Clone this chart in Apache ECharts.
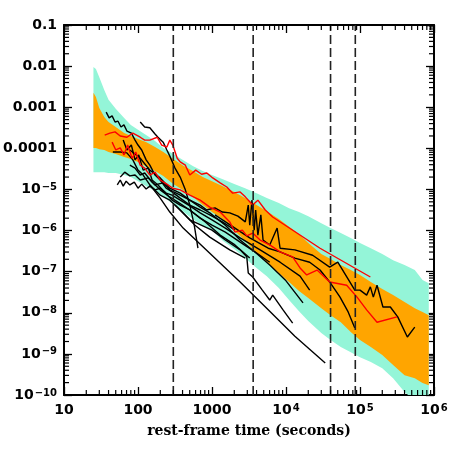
<!DOCTYPE html>
<html>
<head>
<meta charset="utf-8">
<script src="https://cdn.jsdelivr.net/npm/echarts@6/dist/echarts.min.js"></script>
<style>html,body{margin:0;padding:0;background:#fff}#c{width:458px;height:458px}</style>
</head>
<body>
<div id="c"></div>
<script>
// ---------------- DATA (times in seconds; luminance values given in dex = log10) ----------------
const xMin = 10, xMax = 1e6, yMin = 1e-10, yMax = 0.1;
const xTickLabels = ['10', '100', '1000', '10^4', '10^5', '10^6'];
const yTickLabels = ['10^-10', '10^-9', '10^-8', '10^-7', '10^-6', '10^-5', '0.0001', '0.001', '0.01', '0.1'];
const dashTimes = [300, 3600, 40000, 86400];

const bandTime = [25, 27, 30, 35, 40, 50, 65, 80, 100, 130, 170, 220, 300, 400, 550, 750, 1000, 1400, 2000, 2800,
  4000, 5500, 8000, 11000, 15000, 20000, 30000, 40000, 55000, 75000, 1e5, 1.4e5, 2e5, 2.8e5, 4e5, 5.5e5, 7e5, 8.5e5];
const cyanUpperDex = [-2.02, -2.07, -2.27, -2.58, -2.82, -3.04, -3.26, -3.43, -3.55, -3.68, -3.82, -3.99, -4.14, -4.28,
  -4.43, -4.55, -4.65, -4.75, -4.87, -4.97, -5.09, -5.21, -5.33, -5.46, -5.55, -5.65, -5.82, -5.94, -6.06, -6.18,
  -6.30, -6.43, -6.57, -6.72, -6.84, -6.96, -7.20, -7.28];
const cyanLowerDex = [-4.58, -4.58, -4.58, -4.58, -4.60, -4.60, -4.65, -4.70, -4.80, -4.92, -5.04, -5.18, -5.36, -5.53,
  -5.72, -5.89, -5.99, -6.25, -6.45, -6.67, -6.91, -7.11, -7.40, -7.69, -7.96, -8.20, -8.49, -8.66, -8.83, -8.96,
  -9.08, -9.20, -9.35, -9.59, -9.93, -10.13, -10.25, -10.32];
const orangeUpperDex = [-2.65, -2.75, -3.02, -3.24, -3.36, -3.48, -3.63, -3.70, -3.77, -3.85, -3.97, -4.09, -4.26, -4.41,
  -4.55, -4.70, -4.80, -4.92, -5.06, -5.21, -5.38, -5.53, -5.72, -5.91, -6.09, -6.30, -6.57, -6.69, -6.84, -6.96,
  -7.08, -7.25, -7.42, -7.57, -7.74, -7.89, -7.98, -8.06];
const orangeLowerDex = [-3.99, -3.99, -4.02, -4.04, -4.09, -4.14, -4.21, -4.26, -4.33, -4.45, -4.55, -4.67, -4.87, -5.01,
  -5.18, -5.38, -5.55, -5.72, -6.00, -6.25, -6.55, -6.77, -7.03, -7.25, -7.47, -7.64, -7.89, -8.06, -8.23, -8.47,
  -8.66, -8.83, -9.03, -9.27, -9.52, -9.59, -9.71, -9.76];

// light curves: [log10 t, log10 Lx/Eiso]
const blackCurves = [
  [[1.57,-3.12],[1.61,-3.26],[1.65,-3.21],[1.69,-3.36],[1.73,-3.34],[1.77,-3.48],[1.81,-3.43],[1.85,-3.58],[1.91,-3.63],
   [1.96,-3.80],[2.00,-3.92],[2.05,-4.04],[2.11,-4.28],[2.16,-4.41],[2.23,-4.65],[2.30,-4.77],[2.38,-4.97],[2.46,-5.06],
   [2.57,-5.21],[2.70,-5.38],[2.84,-5.50],[2.97,-5.62],[3.14,-5.79],[3.31,-5.99]],
  [[2.03,-3.36],[2.09,-3.48],[2.16,-3.50],[2.23,-3.65],[2.27,-3.73],[2.34,-3.85],[2.39,-4.04],[2.43,-4.19],[2.50,-4.48],
   [2.57,-4.70],[2.64,-5.01],[2.70,-5.38],[2.76,-5.87],[2.81,-6.43]],
  [[1.72,-4.89],[1.76,-4.77],[1.80,-4.92],[1.84,-4.80],[1.89,-4.89],[1.95,-4.82],[2.00,-4.97],[2.05,-4.87],[2.11,-4.99],
   [2.16,-4.92],[2.23,-5.01],[2.30,-4.97],[2.38,-5.09],[2.46,-5.14],[2.57,-5.26],[2.70,-5.40],[2.84,-5.57],[3.00,-5.74],
   [3.18,-5.94],[3.38,-6.18],[3.65,-6.47],[3.92,-6.77],[4.19,-7.11],[4.32,-7.45]],
  [[1.76,-4.70],[1.82,-4.58],[1.89,-4.67],[1.96,-4.65],[2.03,-4.77],[2.14,-4.72],[2.23,-4.89],[2.34,-4.84],[2.43,-5.01],
   [2.57,-5.14],[2.70,-5.26],[2.84,-5.43],[2.97,-5.57],[3.18,-5.87],[3.38,-6.23],[3.58,-6.52],[3.78,-6.84],[3.99,-7.20],
   [4.23,-7.76]],
  [[2.16,-4.89],[2.30,-5.21],[2.43,-5.55],[2.61,-5.94],[2.97,-6.55],[3.38,-7.25],[3.78,-7.96],[4.12,-8.57],[4.53,-9.22]],
  [[2.50,-5.38],[2.70,-5.74],[3.00,-5.99],[3.18,-6.23],[3.38,-6.47],[3.47,-6.64],[3.49,-7.03],[3.55,-7.13],[3.68,-7.45],
   [3.78,-7.69],[3.82,-7.57],[3.96,-7.93],[4.09,-8.25]],
  [[1.89,-4.04],[2.03,-4.24],[2.16,-4.53],[2.30,-4.72],[2.43,-4.97],[2.57,-5.09],[2.70,-5.26],[2.84,-5.38],[2.93,-5.50],
   [3.04,-5.45],[3.14,-5.55],[3.24,-5.57],[3.35,-5.65],[3.45,-5.79],[3.49,-5.38],[3.51,-5.87],[3.54,-5.26],[3.57,-5.99],
   [3.59,-5.50],[3.62,-6.11],[3.66,-5.62],[3.69,-6.23],[3.78,-6.35],[3.88,-5.94],[3.92,-6.43],[4.12,-6.47],[4.36,-6.60],
   [4.59,-6.89],[4.70,-6.77],[4.93,-7.45],[5.00,-7.45],[5.09,-7.57],[5.14,-7.37],[5.18,-7.62],[5.23,-7.33],[5.31,-7.86],
   [5.41,-7.86],[5.51,-8.10],[5.64,-8.59],[5.74,-8.35]],
  [[3.04,-5.62],[3.31,-5.94],[3.51,-6.18],[3.76,-6.43],[3.92,-6.52],[4.12,-6.67],[4.32,-6.77],[4.46,-6.96],[4.59,-7.25],
   [4.73,-7.62],[4.84,-7.98],[4.93,-8.37]],
  [[1.66,-4.09],[1.76,-4.09],[1.85,-4.11],[1.93,-4.28],[2.00,-4.53],[2.07,-4.65],[2.16,-4.89],[2.30,-5.14],[2.43,-5.26],
   [2.57,-5.50],[2.77,-5.87],[2.97,-6.16],[3.24,-6.47],[3.45,-6.67]],
  [[1.80,-3.80],[1.85,-4.04],[1.91,-3.92],[1.96,-4.28],[2.01,-4.16],[2.07,-4.53],[2.14,-4.48],[2.19,-4.77],[2.27,-4.89],
   [2.36,-5.06],[2.46,-5.26],[2.57,-5.38],[2.70,-5.50],[2.84,-5.70],[3.00,-5.87],[3.18,-6.04],[3.38,-6.28],[3.58,-6.52],
   [3.78,-6.77]],
  [[1.89,-4.41],[1.96,-4.48],[2.03,-4.65],[2.09,-4.60],[2.19,-4.82],[2.30,-5.01],[2.41,-5.16],[2.54,-5.31],[2.70,-5.50],
   [2.91,-5.79],[3.11,-6.11],[3.31,-6.35],[3.51,-6.67]]
];
const redCurves = [
  [[1.55,-3.68],[1.62,-3.63],[1.69,-3.60],[1.76,-3.70],[1.85,-3.73],[1.93,-3.63],[2.03,-3.73],[2.09,-3.80],[2.16,-3.80],
   [2.26,-3.73],[2.32,-3.92],[2.39,-3.97],[2.43,-3.80],[2.47,-3.92],[2.53,-4.24],[2.57,-4.33],[2.64,-4.41],[2.70,-4.65],
   [2.78,-4.53],[2.86,-4.63],[2.93,-4.60],[3.01,-4.72],[3.11,-4.84],[3.20,-4.94],[3.28,-5.09],[3.38,-5.06],[3.45,-5.18],
   [3.55,-5.38],[3.62,-5.26],[3.72,-5.50],[3.82,-5.67],[4.46,-6.43],[5.14,-7.13]],
  [[1.65,-3.85],[1.70,-4.04],[1.76,-3.99],[1.81,-4.16],[1.86,-3.92],[1.92,-4.24],[1.97,-4.09],[2.03,-4.41],[2.09,-4.48],
   [2.16,-4.65],[2.23,-4.58],[2.30,-4.77],[2.39,-4.87],[2.47,-4.97],[2.57,-5.01],[2.70,-5.14],[2.84,-5.26],[2.97,-5.43],
   [3.11,-5.55],[3.24,-5.79],[3.31,-6.04],[3.41,-5.99],[3.47,-6.13],[3.55,-6.06],[3.65,-6.23],[3.78,-6.35],[3.92,-6.52],
   [4.09,-6.64],[4.19,-6.91],[4.28,-7.08],[4.42,-6.96],[4.59,-7.25],[4.82,-7.33],[4.96,-7.62],[5.09,-7.93],[5.23,-8.23],
   [5.50,-8.10]]
];

// ---------------- helpers ----------------
const dex = v => Math.pow(10, v);
const LBL_FONT = 'DejaVu Sans';
const NAME_FONT = 'DejaVu Serif';
function xMinorTicks() { const a = []; for (let k = 1; k < 6; k++) for (let m = 2; m <= 9; m++) a.push([m * Math.pow(10, k), yMin]); return a; }
function yMinorTicks() { const a = []; for (let k = -10; k < -1; k++) for (let m = 2; m <= 9; m++) a.push([xMin, m * Math.pow(10, k)]); return a; }
function fmtLabel(list, v) {
  const e = Math.round(Math.log10(v));
  const s = list.find(l => (l.indexOf('^') >= 0 ? parseInt(l.split('^')[1], 10) : Math.round(Math.log10(parseFloat(l)))) === e);
  if (!s) return '';
  if (s.indexOf('^') < 0) return s;
  const p = s.split('^');
  return p[0] + '{s|' + p[1].replace('-', '\u2212') + '}';
}
const supRich = { s: { fontSize: 10, fontWeight: 'bold', fontFamily: LBL_FONT, color: '#000', verticalAlign: 'top', lineHeight: 10, padding: [0, 0, 6, 1] } };

function band(lower, upper, color) {
  return {
    type: 'custom', coordinateSystem: 'cartesian2d', clip: true, silent: true, z: 1,
    data: [[bandTime[0], dex(upper[0])]],
    renderItem: (params, api) => {
      const pts = [];
      for (let i = 0; i < bandTime.length; i++) pts.push(api.coord([bandTime[i], dex(upper[i])]));
      for (let i = bandTime.length - 1; i >= 0; i--) pts.push(api.coord([bandTime[i], dex(lower[i])]));
      return { type: 'polygon', shape: { points: pts }, style: { fill: color } };
    }
  };
}
function curve(c, color) {
  return { type: 'line', data: c.map(p => [dex(p[0]), dex(p[1])]), symbol: 'none', showSymbol: false, clip: true,
    lineStyle: { color: color, width: 1.4 }, z: 3, silent: true };
}
const axisLineStyle = { lineStyle: { color: '#000', width: 2 } };
const tickStyle = { inside: true, length: 8, lineStyle: { color: '#000', width: 1.3 } };

const series = [
  band(cyanLowerDex, cyanUpperDex, '#94f5d8'),
  band(orangeLowerDex, orangeUpperDex, '#ffa500'),
  ...blackCurves.map(c => curve(c, '#000')),
  ...redCurves.map(c => curve(c, '#ff0000')),
  { type: 'custom', coordinateSystem: 'cartesian2d', silent: true, z: 5, clip: true,
    data: dashTimes.map(t => [t, yMin]),
    renderItem: (params, api) => {
      const t = api.value(0); const a = api.coord([t, yMin]); const b = api.coord([t, yMax]);
      return { type: 'line', shape: { x1: a[0], y1: a[1], x2: b[0], y2: b[1] },
        style: { stroke: '#222', lineWidth: 1.6, lineDash: [9, 4] } };
    } },
  { type: 'custom', coordinateSystem: 'cartesian2d', silent: true, z: 6, clip: false,
    data: xMinorTicks(),
    renderItem: (params, api) => {
      const t = api.value(0); const a = api.coord([t, yMin]); const b = api.coord([t, yMax]);
      return { type: 'group', children: [
        { type: 'line', shape: { x1: a[0], y1: a[1], x2: a[0], y2: a[1] - 5 }, style: { stroke: '#000', lineWidth: 1.2 } },
        { type: 'line', shape: { x1: b[0], y1: b[1], x2: b[0], y2: b[1] + 5 }, style: { stroke: '#000', lineWidth: 1.2 } }] };
    } },
  { type: 'custom', coordinateSystem: 'cartesian2d', silent: true, z: 6, clip: false,
    data: yMinorTicks(),
    renderItem: (params, api) => {
      const v = api.value(1); const a = api.coord([xMin, v]); const b = api.coord([xMax, v]);
      return { type: 'group', children: [
        { type: 'line', shape: { x1: a[0], y1: a[1], x2: a[0] + 5, y2: a[1] }, style: { stroke: '#000', lineWidth: 1.2 } },
        { type: 'line', shape: { x1: b[0], y1: b[1], x2: b[0] - 5, y2: b[1] }, style: { stroke: '#000', lineWidth: 1.2 } }] };
    } }
];

const option = {
  animation: false,
  backgroundColor: '#fff',
  grid: { left: 64, top: 25, right: 24, bottom: 63, containLabel: false, outerBoundsMode: 'none' },
  xAxis: [
    { type: 'log', logBase: 10, min: xMin, max: xMax, position: 'bottom',
      axisLine: axisLineStyle, axisTick: tickStyle, splitLine: { show: false },
      axisLabel: { margin: 8, color: '#000', fontSize: 14, fontWeight: 'bold', fontFamily: LBL_FONT,
        formatter: v => fmtLabel(xTickLabels, v), rich: supRich },
      name: 'rest-frame time (seconds)', nameLocation: 'middle', nameGap: 28,
      nameTextStyle: { color: '#000', fontSize: 14, fontWeight: 'bold', fontFamily: NAME_FONT } },
    { type: 'log', logBase: 10, min: xMin, max: xMax, position: 'top',
      axisLine: axisLineStyle, axisTick: tickStyle, splitLine: { show: false }, axisLabel: { show: false } }
  ],
  yAxis: [
    { type: 'log', logBase: 10, min: yMin, max: yMax, position: 'left',
      axisLine: axisLineStyle, axisTick: tickStyle, splitLine: { show: false },
      axisLabel: { margin: 7, color: '#000', fontSize: 14, fontWeight: 'bold', fontFamily: LBL_FONT,
        formatter: v => fmtLabel(yTickLabels, v), rich: supRich },
      name: 'L{sub|X}/Eiso', nameLocation: 'middle', nameGap: 42, nameRotate: 90,
      nameTextStyle: { color: '#000', fontSize: 14, fontWeight: 'bold', fontFamily: NAME_FONT,
        rich: { sub: { fontSize: 10, fontWeight: 'bold', fontFamily: NAME_FONT, color: '#000', verticalAlign: 'bottom', padding: [6, 0, 0, 0] } } } },
    { type: 'log', logBase: 10, min: yMin, max: yMax, position: 'right',
      axisLine: axisLineStyle, axisTick: tickStyle, splitLine: { show: false }, axisLabel: { show: false } }
  ],
  series: series
};
const chart = echarts.init(document.getElementById('c'), null, { renderer: 'canvas' });
chart.setOption(option);
</script>
</body>
</html>
